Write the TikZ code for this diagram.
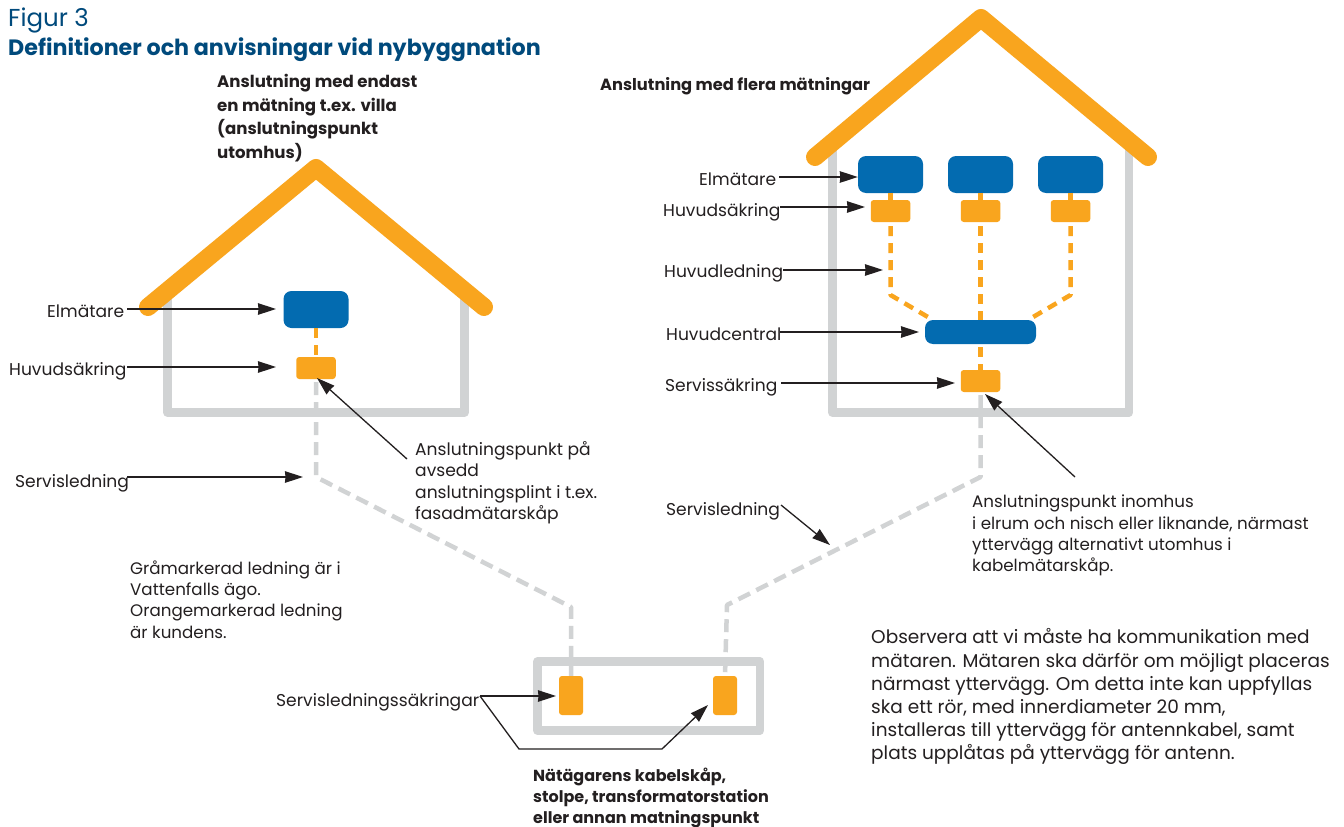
\documentclass[tikz,border=0pt]{standalone}
\usepackage{fontspec}
\setmainfont{Poppins}
\usetikzlibrary{arrows.meta}
\definecolor{roofor}{HTML}{F9A51E}
\definecolor{wallgr}{HTML}{D1D3D4}
\definecolor{metbl}{HTML}{036BB0}
\definecolor{inkk}{HTML}{231F20}
\definecolor{headbl}{HTML}{004A7C}
\tikzset{
  roofline/.style={draw=roofor,line width=18pt,line cap=round,line join=round},
  wallline/.style={draw=wallgr,line width=8.5pt,line join=round},
  meterbox/.style={fill=metbl,rounded corners=8pt,minimum width=65pt,minimum height=37pt,inner sep=0pt},
  centralbox/.style={fill=metbl,rounded corners=8pt,minimum width=111pt,minimum height=24pt,inner sep=0pt},
  fusebox/.style={fill=roofor,rounded corners=3pt,minimum width=39.5pt,minimum height=22pt,inner sep=0pt},
  tallfuse/.style={fill=roofor,rounded corners=3pt,minimum width=24pt,minimum height=39pt,inner sep=0pt},
  ordash/.style={draw=roofor,line width=4.5pt,dash pattern=on 10pt off 7pt,line join=round},
  orsolid/.style={draw=roofor,line width=4.5pt},
  grdash/.style={draw=wallgr,line width=4.5pt,dash pattern=on 13pt off 7pt,line join=round},
  pointer/.style={draw=inkk,line width=1.3pt,-{Stealth[length=18pt,width=11.5pt,inset=0.5pt]}},
  plainlabel/.style={anchor=base west,inner sep=0pt,text=inkk,font=\fontsize{17.1}{21}\selectfont},
  multilabel/.style={anchor=north west,inner sep=0pt,align=left,text=inkk,font=\fontsize{17.1}{21.3}\selectfont},
  narrowlabel/.style={anchor=north west,inner sep=0pt,align=left,text=inkk,font=\fontsize{16.7}{21.3}\selectfont},
  boldlabel/.style={anchor=north west,inner sep=0pt,align=left,text=inkk,font=\fontsize{16}{21}\selectfont\bfseries},
  notelabel/.style={anchor=north west,inner sep=0pt,align=left,text=inkk,font=\fontsize{18.5}{23.2}\selectfont},
}
\newcommand{\firstln}{\rule{0pt}{12pt}}
\begin{document}
\begin{tikzpicture}[x=1pt,y=-1pt]
\useasboundingbox[fill=white] (0,0) rectangle (1344,827);
% headings
\node[anchor=base west,inner sep=0pt,text=headbl,font=\fontsize{24.5}{25}\selectfont] (figno) at (8,27) {Figur 3};
\node[anchor=base west,inner sep=0pt,text=headbl,font=\fontsize{22.2}{25}\selectfont\bfseries] (figtitle) at (8,55.5) {Definitioner och anvisningar vid nybyggnation};
\node[anchor=north west,inner sep=0pt,align=left,text=inkk,font=\fontsize{16.6}{23.4}\selectfont\bfseries] (titleL) at (217,74.5) {\firstln Anslutning med endast\\en mätning t.ex. villa\\(anslutningspunkt\\utomhus)};
\node[anchor=base west,inner sep=0pt,text=inkk,font=\fontsize{16.25}{22}\selectfont\bfseries] (titleR) at (600,90) {Anslutning med flera mätningar};
% left house
\draw[wallline] (167.5,297) -- (167.5,412.5) -- (464.5,412.5) -- (464.5,297);
\draw[roofline] (148,307) -- (316,168) -- (484,307);
\node[meterbox] (lm) at (316,309.5) {};
\node[fusebox] (lf) at (316,368) {};
\draw[ordash] (lm.south) -- (lf.north);
\coordinate (lbend) at (316,477);
\coordinate (lkink) at (571,607);
% right house
\draw[wallline] (832.5,150) -- (832.5,412.5) -- (1129,412.5) -- (1129,150);
\draw[roofline] (815,157) -- (981,18) -- (1148,157);
\node[meterbox] (m1) at (890.5,174.5) {};
\node[meterbox] (m2) at (980.5,174.5) {};
\node[meterbox] (m3) at (1070.5,174.5) {};
\node[fusebox] (f1) at (890.5,211) {};
\node[fusebox] (f2) at (980.5,211) {};
\node[fusebox] (f3) at (1070.5,211) {};
\node[centralbox] (hc) at (980.5,332) {};
\node[fusebox] (sf) at (980.5,381) {};
\draw[orsolid] (m1.south) -- (f1.north);
\draw[orsolid] (m2.south) -- (f2.north);
\draw[orsolid] (m3.south) -- (f3.north);
\coordinate (b1) at (890.5,295);
\coordinate (b3) at (1070.5,295);
\coordinate (h1) at (933,320);
\coordinate (h3) at (1028,320);
\draw[ordash] (f1.south) ++(0,4) -- (b1) -- (h1);
\draw[ordash] (f2.south) ++(0,4) -- (hc.north);
\draw[ordash] (f3.south) ++(0,4) -- (b3) -- (h3);
\draw[ordash] (hc.south) ++(0,3) -- (sf.north);
\coordinate (rbend) at (980.5,477);
\coordinate (rkink) at (727,605);
% cabinet
\draw[wallgr,line width=8.5pt,line join=round] (537.5,661.5) rectangle (760,730.5);
\node[tallfuse] (c1) at (571,695.5) {};
\node[tallfuse] (c2) at (725,695.5) {};
% grey service cables
\draw[grdash] (lf.south) ++(0,3) -- (lbend) -- (lkink) -- (c1.north);
\draw[grdash] (sf.south) ++(0,3) -- (rbend) -- (rkink) -- (c2.north);
% labels
\node[plainlabel] (a1) at (47,317) {Elmätare};
\node[plainlabel] (a2) at (9,375) {Huvudsäkring};
\node[plainlabel] (a3) at (15,487) {Servisledning};
\node[multilabel] (a4) at (415,441.5) {\firstln Anslutningspunkt på\\avsedd\\anslutningsplint i t.ex.\\fasadmätarskåp};
\node[narrowlabel] (a5) at (130,560.5) {\firstln Gråmarkerad ledning är i\\Vattenfalls ägo.\\Orangemarkerad ledning\\är kundens.};
\node[plainlabel] (b1l) at (699,185) {Elmätare};
\node[plainlabel] (b2l) at (663,216) {Huvudsäkring};
\node[plainlabel] (b3l) at (664,277) {Huvudledning};
\node[plainlabel] (b4l) at (666,340) {Huvudcentral};
\node[plainlabel] (b5l) at (665,391) {Servissäkring};
\node[plainlabel] (b6l) at (666,515) {Servisledning};
\node[narrowlabel] (b7l) at (972,495) {\firstln Anslutningspunkt inomhus\\i elrum och nisch eller liknande, närmast\\yttervägg alternativt utomhus i\\kabelmätarskåp.};
\node[plainlabel] (c1l) at (276,706) {Servisledningssäkringar};
\node[boldlabel] (c2l) at (533,767.5) {\firstln Nätägarens kabelskåp,\\stolpe, transformatorstation\\eller annan matningspunkt};
\node[notelabel] (note) at (871,628.5) {\firstln Observera att vi måste ha kommunikation med\\mätaren. Mätaren ska därför om möjligt placeras\\närmast yttervägg. Om detta inte kan uppfyllas\\ska ett rör, med innerdiameter 20 mm,\\installeras till yttervägg för antennkabel, samt\\plats upplåtas på yttervägg för antenn.};
% pointer ends
\coordinate (pa1s) at (127,309); \coordinate (pa1e) at (276,309);
\coordinate (pa2s) at (127,367); \coordinate (pa2e) at (276,367);
\coordinate (pa3s) at (127,477); \coordinate (pa3e) at (303,477);
\coordinate (pa4s) at (407,459); \coordinate (pa4e) at (317,378);
\coordinate (pb1s) at (779,177);
\coordinate (pb2s) at (780,207); \coordinate (pb2e) at (865,207);
\coordinate (pb3s) at (783,270); \coordinate (pb3e) at (883,270);
\coordinate (pb4s) at (780,332); \coordinate (pb4e) at (919,332);
\coordinate (pb5s) at (781,383); \coordinate (pb5e) at (955,383);
\coordinate (pb6s) at (1075,477); \coordinate (pb6e) at (985,394);
\coordinate (pb7s) at (781,505); \coordinate (pb7e) at (830,545);
\coordinate (pc1s) at (480,696); \coordinate (pc1e) at (556,696);
\coordinate (pc2a) at (519,749); \coordinate (pc2b) at (662,749); \coordinate (pc2e) at (708,705);
\draw[pointer] (pa1s) -- (pa1e);
\draw[pointer] (pa2s) -- (pa2e);
\draw[pointer] (pa3s) -- (pa3e);
\draw[pointer] (pa4s) -- (pa4e);
\draw[pointer] (pb1s) -- (m1.west |- pb1s);
\draw[pointer] (pb2s) -- (pb2e);
\draw[pointer] (pb3s) -- (pb3e);
\draw[pointer] (pb4s) -- (pb4e);
\draw[pointer] (pb5s) -- (pb5e);
\draw[pointer] (pb6s) -- (pb6e);
\draw[pointer] (pb7s) -- (pb7e);
\draw[pointer] (pc1s) -- (pc1e);
\draw[pointer] (pc1s) -- (pc2a) -- (pc2b) -- (pc2e);
\end{tikzpicture}
\end{document}
